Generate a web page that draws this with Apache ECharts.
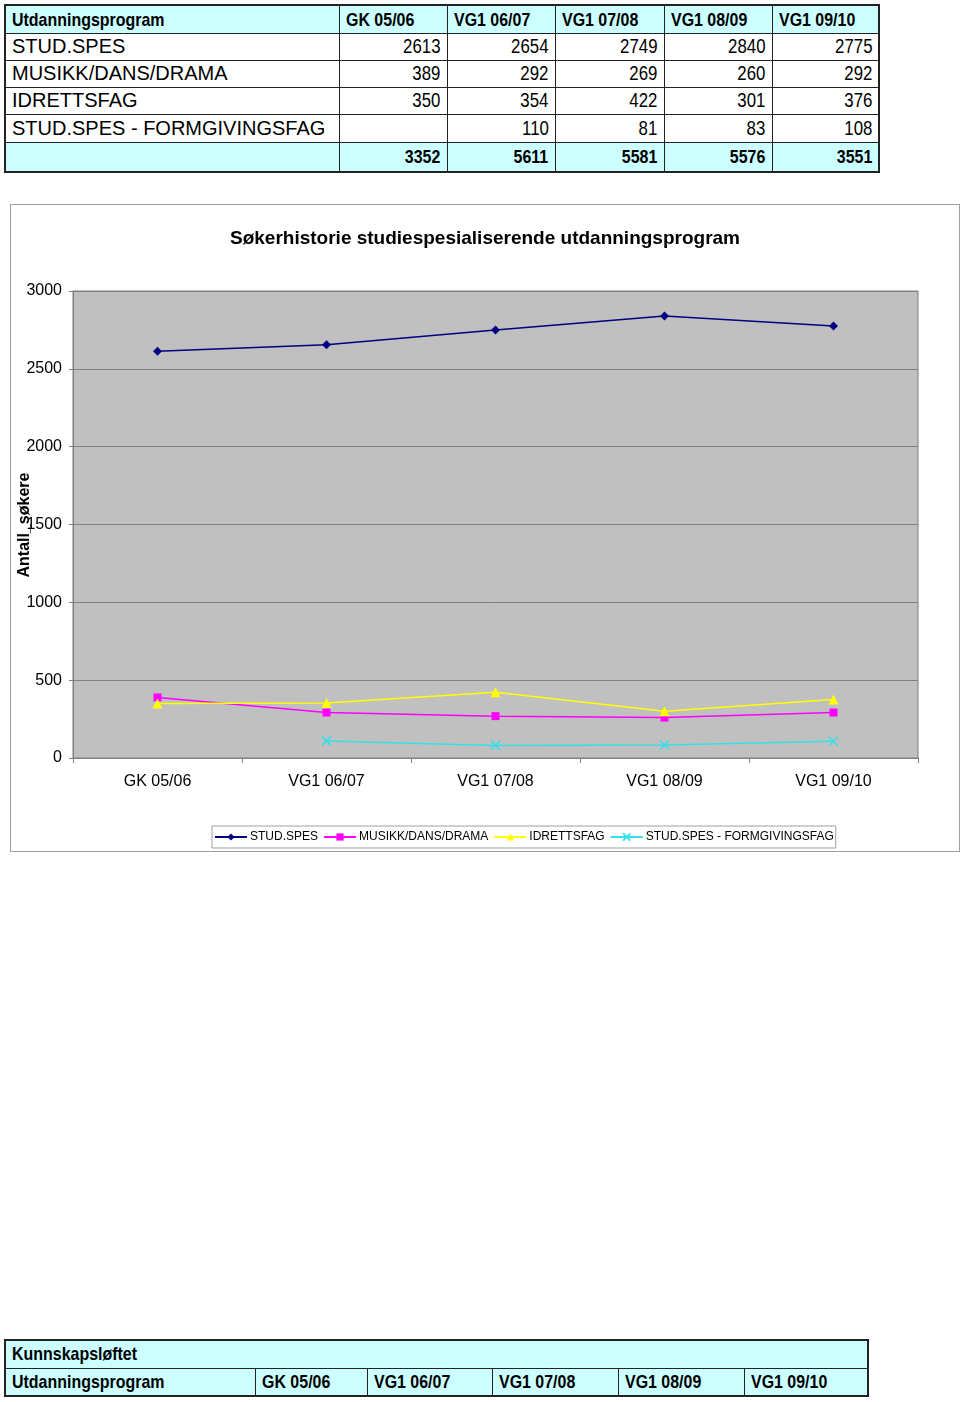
<!DOCTYPE html>
<html>
<head>
<meta charset="utf-8">
<script src="https://cdn.jsdelivr.net/npm/echarts@6/dist/echarts.min.js"></script>
<style>
html,body{margin:0;padding:0;background:#fff;width:960px;height:1402px;overflow:hidden;}
body{position:relative;font-family:"Liberation Sans",Arial,sans-serif;}
table{border-collapse:collapse;table-layout:fixed;position:absolute;}
td{border:1px solid #222;padding:0 6px;white-space:nowrap;overflow:hidden;color:#000;}
#top{left:4px;top:4px;border:2px solid #222;}
#top td{font-size:20px;}
.hd{background:#ccffff;font-weight:bold;}
.hd span{display:inline-block;transform:scaleX(0.84);transform-origin:left center;font-size:19px;}
.num{text-align:right;}
.num span{display:inline-block;transform:scaleX(0.84);transform-origin:right center;}
#bot{left:4px;top:1339px;border:2px solid #222;}
#bot td{font-size:19px;}
#chartbox{position:absolute;left:10px;top:204px;width:948px;height:646px;border:1px solid #a0a0a0;}
#chart{width:948px;height:646px;}
</style>
</head>
<body>
<table id="top"><colgroup><col style="width:334px"><col style="width:108px"><col style="width:108px"><col style="width:109px"><col style="width:108px"><col style="width:107px"></colgroup><tbody id="topbody"></tbody></table>
<div id="chartbox"><div id="chart"></div></div>
<table id="bot"><colgroup><col style="width:250px"><col style="width:112px"><col style="width:125px"><col style="width:126px"><col style="width:126px"><col style="width:124px"></colgroup><tbody id="botbody"></tbody></table>
<script>
var headerLabel = "Utdanningsprogram";
var sectionLabel = "Kunnskapsløftet";
var categories = ["GK 05/06", "VG1 06/07", "VG1 07/08", "VG1 08/09", "VG1 09/10"];
var seriesNames = ["STUD.SPES", "MUSIKK/DANS/DRAMA", "IDRETTSFAG", "STUD.SPES - FORMGIVINGSFAG"];
var studSpes = [2613, 2654, 2749, 2840, 2775];
var musikk = [389, 292, 269, 260, 292];
var idrett = [350, 354, 422, 301, 376];
var formgiving = [null, 110, 81, 83, 108];
var totals = [3352, 5611, 5581, 5576, 3551];
var chartTitle = "Søkerhistorie studiespesialiserende utdanningsprogram";
var yAxisName = "Antall_søkere";

// top table
var allSeries = [studSpes, musikk, idrett, formgiving];
var rowH = [28, 27, 27, 27, 28, 30];
var tb = document.getElementById('topbody');
var html = '<tr style="height:' + rowH[0] + 'px"><td class="hd"><span>' + headerLabel + '</span></td>';
categories.forEach(function (c) { html += '<td class="hd"><span>' + c + '</span></td>'; });
html += '</tr>';
seriesNames.forEach(function (n, i) {
  html += '<tr style="height:' + rowH[i + 1] + 'px"><td>' + n + '</td>';
  allSeries[i].forEach(function (v) { html += '<td class="num"><span>' + (v == null ? '' : v) + '</span></td>'; });
  html += '</tr>';
});
html += '<tr style="height:' + rowH[5] + 'px"><td class="hd"></td>';
totals.forEach(function (v) { html += '<td class="hd num"><span style="transform-origin:right center">' + v + '</span></td>'; });
html += '</tr>';
tb.innerHTML = html;

// bottom table
var bb = document.getElementById('botbody');
var h2 = '<tr style="height:28px"><td class="hd" colspan="6"><span>' + sectionLabel + '</span></td></tr>';
h2 += '<tr style="height:28px"><td class="hd"><span>' + headerLabel + '</span></td>';
categories.forEach(function (c) { h2 += '<td class="hd"><span>' + c + '</span></td>'; });
h2 += '</tr>';
bb.innerHTML = h2;

var chart = echarts.init(document.getElementById('chart'), null, { renderer: 'canvas' });
var xPath = 'path://M0,0 L10,10 M10,0 L0,10';
var colors = ['#000080', '#ff00ff', '#ffff00', '#33e0e8'];
var symbols = ['diamond', 'rect', 'triangle', xPath];
var sizes = [9, 8, 10, 9];
var font = '"Liberation Sans", Arial, sans-serif';
chart.setOption({
  animation: false,
  title: {
    text: chartTitle, left: 'center', top: 19,
    textStyle: { fontFamily: font, fontWeight: 'bold', fontSize: 19, color: '#000' }
  },
  graphic: [{
    type: 'text', x: 14, y: 320, rotation: Math.PI / 2, z: 100,
    style: {
      text: yAxisName, fontFamily: font, fontWeight: 'bold', fontSize: 16, fill: '#000',
      align: 'center', verticalAlign: 'middle'
    }
  }],
  legend: {
    left: 201, top: 621,
    itemWidth: 32, itemHeight: 9, itemGap: 5,
    padding: [5, 2, 5, 2],
    borderColor: '#a0a0a0', borderWidth: 1, borderRadius: 0,
    backgroundColor: '#fff',
    textStyle: { fontFamily: font, fontSize: 12, color: '#000', padding: [0, 0, 0, -2] },
    data: seriesNames
  },
  grid: {
    left: 62, top: 86, right: 41, bottom: 93,
    outerBoundsMode: 'none', containLabel: false,
    show: true, backgroundColor: '#c0c0c0', borderColor: '#808080', borderWidth: 1
  },
  xAxis: {
    type: 'category', data: categories, boundaryGap: true,
    axisLine: { lineStyle: { color: '#808080', width: 1 } },
    axisTick: { show: true, length: 5, lineStyle: { color: '#808080' } },
    axisLabel: { fontFamily: font, fontSize: 16, color: '#000', margin: 16 }
  },
  yAxis: {
    type: 'value', min: 0, max: 3000, interval: 500,
    axisLine: { show: true, lineStyle: { color: '#808080' } },
    axisTick: { show: true, length: 4, lineStyle: { color: '#808080' } },
    axisLabel: { fontFamily: font, fontSize: 16, color: '#000', margin: 11, formatter: function (v) { return String(v); } },
    splitLine: { show: true, lineStyle: { color: '#808080', width: 1 } }
  },
  series: allSeries.map(function (d, i) {
    return {
      name: seriesNames[i], type: 'line', data: d,
      symbol: symbols[i], symbolSize: sizes[i], showSymbol: true,
      connectNulls: false,
      lineStyle: { color: colors[i], width: 1.5 },
      itemStyle: { color: colors[i], borderColor: colors[i], borderWidth: i === 3 ? 1.5 : 0 }
    };
  })
});
</script>
</body>
</html>
